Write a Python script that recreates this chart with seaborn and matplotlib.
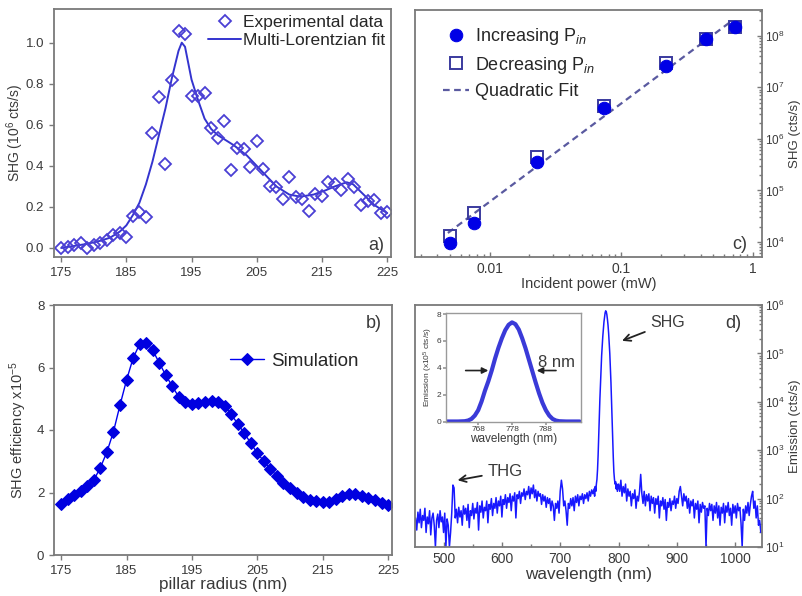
import numpy as np
import matplotlib
matplotlib.use("Agg")
import matplotlib.pyplot as plt
import matplotlib.ticker as mticker
import seaborn as sns

# ---------------- data ----------------
# (a) experimental SHG vs pillar radius
radius_exp = list(range(175, 226))
shg_exp = [0.00, 0.006, 0.013, 0.023, 0.002, 0.013, 0.026, 0.039, 0.063, 0.075,
           0.052, 0.156, 0.177, 0.153, 0.56, 0.734, 0.41, 0.818, 1.058, 1.04,
           0.74, 0.74, 0.753, 0.583, 0.534, 0.62, 0.378, 0.486, 0.483, 0.392,
           0.52, 0.386, 0.30, 0.297, 0.238, 0.344, 0.248, 0.24, 0.18, 0.264,
           0.251, 0.32, 0.311, 0.28, 0.337, 0.297, 0.207, 0.23, 0.235, 0.17, 0.175]
fit_x = [175, 177, 179, 181, 182.5, 184, 185, 186, 187, 188, 189, 190, 191, 192, 193,
         193.5, 194, 195, 196, 197, 198, 199, 200, 201.5, 203.5, 205, 206.5, 208, 210,
         211.7, 213.7, 215.5, 217, 218.8, 219.8, 221.4, 223, 225]
fit_y = [0.0, 0.01, 0.02, 0.035, 0.05, 0.08, 0.11, 0.16, 0.22, 0.31, 0.42, 0.55, 0.68, 0.83, 0.96,
         1.0, 0.98, 0.82, 0.72, 0.63, 0.58, 0.55, 0.53, 0.5, 0.45, 0.4, 0.35, 0.3, 0.26,
         0.25, 0.26, 0.28, 0.30, 0.32, 0.31, 0.26, 0.21, 0.17]

# (b) simulation
sim_x = list(range(175, 226))
sim_y = [1.62, 1.78, 1.92, 2.05, 2.2, 2.4, 2.8, 3.3, 3.95, 4.8,
         5.6, 6.3, 6.75, 6.8, 6.55, 6.15, 5.75, 5.4, 5.05, 4.9,
         4.82, 4.85, 4.9, 4.92, 4.9, 4.78, 4.5, 4.2, 3.9, 3.58,
         3.26, 3.0, 2.75, 2.53, 2.32, 2.15, 2.0, 1.87, 1.77, 1.72,
         1.7, 1.7, 1.78, 1.88, 1.95, 1.95, 1.9, 1.82, 1.75, 1.67, 1.6]

# (c) power dependence
pin_inc = [0.005, 0.0076, 0.023, 0.074, 0.22, 0.44, 0.73]
shg_inc = [9.5e3, 2.3e4, 3.5e5, 4.0e6, 2.6e7, 8.7e7, 1.5e8]
pin_dec = [0.005, 0.0076, 0.023, 0.074, 0.22, 0.44, 0.73]
shg_dec = [1.3e4, 3.6e4, 4.5e5, 4.4e6, 3.0e7, 8.7e7, 1.5e8]
qfit_x = [0.0048, 0.70]
qfit_y = [1.5e4, 2.0e8]

# (d) emission spectrum, log10 of counts
spec_left_start, spec_step = 452, 2
spec_left_log = [
    1.60, 1.35, 1.72, 1.50, 1.78, 1.40, 1.65, 1.55, 1.80, 1.30,
    1.62, 1.48, 1.75, 1.25, 1.60, 1.70, 1.45, 1.00, 1.55, 1.68,
    1.40, 1.75, 1.52, 1.62, 1.30, 1.70, 1.00, 1.58, 1.45, 1.00,
    1.30, 1.70, 2.28, 2.22, 1.60, 1.78, 1.50, 1.82, 1.62, 1.75,
    1.45, 1.85, 1.68, 1.80, 1.55, 1.88, 1.40, 1.75, 1.65, 1.90,
    1.58, 1.80, 1.70, 1.92, 1.35, 1.85, 1.72, 1.95, 1.60, 1.82,
    1.75, 1.95, 1.50, 1.88, 1.78, 2.00, 1.65, 1.90, 1.80, 2.02,
    1.70, 1.95, 1.85, 2.05, 1.62, 1.98, 1.88, 2.08, 1.80, 2.02,
    1.92, 2.10, 1.75, 2.05, 1.95, 2.12, 1.60, 2.08, 2.00, 2.15,
    1.90, 2.12, 2.05, 2.20, 1.98, 2.15, 2.08, 2.25, 2.00, 2.22,
    2.10, 2.28, 2.02, 2.18, 1.95, 2.15, 2.05, 2.10, 1.88, 2.08,
    1.95, 2.05, 1.82, 2.02, 1.90, 2.00, 1.75, 1.95, 1.85, 1.55,
    1.90, 1.80, 1.95, 1.70, 2.15, 2.38, 2.20, 1.85, 1.95, 1.75,
    1.45, 1.90, 1.80, 2.00, 1.85, 2.02, 1.75, 2.05, 1.92, 2.08,
    1.85, 2.05, 1.98, 2.10, 1.90, 2.08, 2.00, 2.12, 1.95, 2.15,
    2.05, 2.18, 2.10]
peak_wl = list(range(758, 799))
peak_log = [2.2, 2.05, 2.25, 2.15, 2.3, 2.4, 2.6, 2.9, 3.3, 3.7,
            4.05, 4.35, 4.6, 4.95, 5.15, 5.35, 5.5, 5.65, 5.75, 5.84,
            5.88, 5.86, 5.8, 5.7, 5.58, 5.42, 5.22, 5.0, 4.72, 4.4,
            4.0, 3.6, 3.2, 2.85, 2.55, 2.4, 2.3, 2.35, 2.2, 2.3, 2.15]
spec_right_start = 800
spec_right_log = [
    2.30, 2.15, 2.38, 2.05, 2.25, 2.12, 2.30, 1.95, 2.20, 2.05,
    2.15, 1.85, 2.10, 2.00, 2.18, 1.80, 2.05, 1.95, 2.15, 2.50,
    2.10, 1.90, 2.15, 1.85, 2.08, 1.95, 2.10, 1.75, 2.05, 1.90,
    2.02, 1.70, 2.00, 1.88, 2.05, 1.60, 1.95, 1.85, 2.02, 1.78,
    1.98, 1.55, 1.92, 1.82, 2.00, 1.75, 1.95, 1.88, 2.05, 1.80,
    2.00, 1.90, 2.15, 2.25, 2.05, 1.85, 2.10, 1.95, 2.05, 1.80,
    2.00, 1.70, 1.95, 1.85, 1.98, 1.60, 1.90, 1.78, 1.95, 1.50,
    1.88, 1.72, 1.92, 1.80, 1.85, 1.00, 1.80, 1.65, 1.90, 1.75,
    1.88, 1.55, 1.85, 1.70, 1.92, 1.60, 1.85, 1.45, 1.82, 1.70,
    1.90, 1.50, 1.85, 1.72, 1.92, 1.65, 1.80, 1.45, 1.88, 1.70,
    1.85, 1.60, 1.90, 1.75, 1.82, 1.50, 1.00, 1.78, 1.55, 1.85,
    1.70, 1.92, 1.65, 1.88, 2.05, 2.15, 1.80, 1.95, 1.60, 1.85,
    1.45, 1.55, 1.30]

# inset (x10^5 cts/s)
inset_wl = [758, 760, 762, 764, 765, 766, 767, 768, 769, 770, 771, 772, 773, 774, 775,
            776, 777, 778, 779, 780, 781, 782, 783, 784, 785, 786, 787, 788, 789, 790,
            791, 792, 794, 796, 798]
inset_em = [0.01, 0.01, 0.01, 0.03, 0.08, 0.2, 0.45, 0.85, 1.5, 2.3, 3.0, 3.8, 4.7, 5.5, 6.2,
            6.8, 7.2, 7.38, 7.25, 6.85, 6.2, 5.45, 4.6, 3.75, 2.9, 2.1, 1.4, 0.85, 0.45, 0.2,
            0.08, 0.03, 0.01, 0.01, 0.01]

# ---------------- figure ----------------
sns.set_theme(style="ticks")
plt.rcParams["font.family"] = ["Liberation Sans", "DejaVu Sans"]
plt.rcParams["mathtext.fontset"] = "custom"
plt.rcParams["mathtext.rm"] = "Liberation Sans"
plt.rcParams["mathtext.it"] = "Liberation Sans:italic"
plt.rcParams["mathtext.bf"] = "Liberation Sans:bold"

W, H = 803, 596
fig = plt.figure(figsize=(W / 100, H / 100), dpi=100)
TXT = "#3a3a3a"
SP = "#7a7a7a"


def box(l, t, r, b):
    return [l / W, 1 - b / H, (r - l) / W, (b - t) / H]


def style(ax, direction="out", size=9.5):
    for s in ax.spines.values():
        s.set_color(SP)
        s.set_linewidth(1.3)
    ax.tick_params(which="both", colors=SP, labelcolor=TXT, labelsize=size,
                   direction=direction, width=1.0)
    ax.tick_params(which="major", length=3.5)
    ax.tick_params(which="minor", length=2)


# ----- (a)
axA = fig.add_axes(box(54, 9, 391, 257))
sns.lineplot(x=fit_x, y=fit_y, ax=axA, color="#3434cf", lw=1.4, sort=False,
             label="Multi-Lorentzian fit")
sns.lineplot(x=radius_exp, y=shg_exp, ax=axA, marker="D", linestyle="none", ms=6,
             mfc="none", mec="#4a3fd4", mew=1.3, label="Experimental data")
axA.set_xlim(173.9, 225.6)
axA.set_ylim(-0.044, 1.164)
axA.set_xticks([175, 185, 195, 205, 215, 225])
axA.set_yticks([0.0, 0.2, 0.4, 0.6, 0.8, 1.0])
axA.yaxis.set_major_formatter(mticker.FormatStrFormatter("%.1f"))
axA.set_ylabel("SHG (10$^6$ cts/s)", fontsize=10, color=TXT)
axA.yaxis.set_label_coords(-0.082, 0.5)
style(axA)
h, l = axA.get_legend_handles_labels()
axA.legend([h[1], h[0]], [l[1], l[0]], loc="upper right", bbox_to_anchor=(1.0, 1.0),
           frameon=False, fontsize=12.5, handlelength=1.9, handletextpad=0.1,
           labelspacing=0.15, borderaxespad=0.15, borderpad=0.2)
axA.text(0.955, 0.045, "a)", transform=axA.transAxes, fontsize=13, color=TXT,
         ha="center", va="center")

# ----- (b)
axB = fig.add_axes(box(54, 305, 392, 555))
sns.lineplot(x=sim_x, y=sim_y, ax=axB, color="#0000f0", lw=1.0, marker="D", ms=6.5,
             mfc="#0000e0", mec="#0000e0", label="Simulation")
axB.set_xlim(173.9, 225.6)
axB.set_ylim(0, 8)
axB.set_xticks([175, 185, 195, 205, 215, 225])
axB.set_yticks([0, 2, 4, 6, 8])
axB.set_xlabel("pillar radius (nm)", fontsize=12.3, color=TXT, labelpad=0)
axB.set_ylabel("SHG efficiency x10$^{-5}$", fontsize=10.5, color=TXT)
axB.yaxis.set_label_coords(-0.075, 0.5)
style(axB)
axB.legend(loc="center left", bbox_to_anchor=(0.52, 0.776), frameon=False,
           fontsize=13.5, handlelength=1.85, handletextpad=0.35, borderaxespad=0, borderpad=0)
axB.text(0.945, 0.925, "b)", transform=axB.transAxes, fontsize=13, color=TXT,
         ha="center", va="center")

# ----- (c)
axC = fig.add_axes(box(415, 10, 762, 257))
axC.set_xscale("log")
axC.set_yscale("log")
sns.lineplot(x=qfit_x, y=qfit_y, ax=axC, color="#5a5aa0", lw=1.6, linestyle=(0, (3, 2)),
             label="Quadratic Fit")
sns.lineplot(x=pin_dec, y=shg_dec, ax=axC, marker="s", linestyle="none", ms=8.5,
             mfc="none", mec="#3a3a9e", mew=1.4, label="Decreasing P$_{in}$")
sns.lineplot(x=pin_inc, y=shg_inc, ax=axC, marker="o", linestyle="none", ms=9,
             color="#0000e6", mec="#0000e6", label="Increasing P$_{in}$")
axC.set_xlim(0.0027, 1.17)
axC.set_ylim(10 ** 3.71, 10 ** 8.5)
axC.set_xticks([0.01, 0.1, 1])
axC.set_xticklabels(["0.01", "0.1", "1"])
axC.xaxis.set_minor_locator(mticker.LogLocator(base=10, subs=np.arange(2, 10)))
axC.xaxis.set_minor_formatter(mticker.NullFormatter())
axC.yaxis.set_major_locator(mticker.LogLocator(base=10, numticks=10))
axC.yaxis.set_minor_locator(mticker.LogLocator(base=10, subs=np.arange(2, 10), numticks=20))
axC.yaxis.set_minor_formatter(mticker.NullFormatter())
axC.yaxis.tick_right()
axC.yaxis.set_label_position("right")
axC.set_xlabel("Incident power (mW)", fontsize=10.5, color=TXT, labelpad=1)
axC.set_ylabel("SHG (cts/s)", fontsize=9.5, color=TXT)
axC.yaxis.set_label_coords(1.078, 0.5)
style(axC, direction="in", size=10)
axC.tick_params(axis="y", labelsize=8.5, pad=2)
h, l = axC.get_legend_handles_labels()
axC.legend([h[2], h[1], h[0]], [l[2], l[1], l[0]], loc="upper left",
           bbox_to_anchor=(0.081, 0.935), frameon=False, fontsize=13,
           handlelength=1.45, handletextpad=0.3, labelspacing=0.42,
           borderaxespad=0, borderpad=0)
axC.text(0.937, 0.05, "c)", transform=axC.transAxes, fontsize=13, color=TXT,
         ha="center", va="center")

# ----- (d)
spec_wl = ([spec_left_start + spec_step * i for i in range(len(spec_left_log))]
           + peak_wl
           + [spec_right_start + spec_step * i for i in range(len(spec_right_log))])
spec_val = [10 ** v for v in spec_left_log + peak_log + spec_right_log]

axD = fig.add_axes(box(415, 305, 762, 547))
axD.set_yscale("log")
sns.lineplot(x=spec_wl, y=spec_val, ax=axD, color="#1818ff", lw=1.1, sort=False)
axD.set_xlim(451, 1046)
axD.set_ylim(10, 1e6)
axD.set_xticks([500, 600, 700, 800, 900, 1000])
axD.xaxis.set_minor_locator(mticker.MultipleLocator(50))
axD.yaxis.set_major_locator(mticker.LogLocator(base=10, numticks=10))
axD.yaxis.set_minor_locator(mticker.LogLocator(base=10, subs=np.arange(2, 10), numticks=20))
axD.yaxis.set_minor_formatter(mticker.NullFormatter())
axD.yaxis.tick_right()
axD.yaxis.set_label_position("right")
axD.set_xlabel("wavelength (nm)", fontsize=12.3, color=TXT, labelpad=1)
axD.set_ylabel("Emission (cts/s)", fontsize=9.5, color=TXT)
axD.yaxis.set_label_coords(1.078, 0.5)
style(axD, direction="in", size=10)
axD.tick_params(axis="y", labelsize=8.5, pad=2)
axD.text(0.917, 0.924, "d)", transform=axD.transAxes, fontsize=13, color=TXT,
         ha="center", va="center")
axD.annotate("SHG", xy=(806, 10 ** 5.26), xytext=(885, 10 ** 5.63), fontsize=11.5,
             color=TXT, ha="center", va="center",
             arrowprops=dict(arrowstyle="->", color="#222222", lw=1.3,
                             shrinkA=2, shrinkB=0, mutation_scale=12))
axD.annotate("THG", xy=(524, 10 ** 2.38), xytext=(606, 10 ** 2.56), fontsize=12,
             color=TXT, ha="center", va="center",
             arrowprops=dict(arrowstyle="->", color="#222222", lw=1.3,
                             shrinkA=2, shrinkB=0, mutation_scale=12))

# inset
axI = fig.add_axes(box(445.7, 312.7, 580.7, 422.3))
sns.lineplot(x=inset_wl, y=inset_em, ax=axI, color="#3a3ad8", lw=3.0)
axI.set_xlim(758.4, 798.3)
axI.set_ylim(-0.05, 8.1)
axI.set_xticks([768, 778, 788])
axI.set_yticks([0, 2, 4, 6, 8])
axI.set_xlabel("wavelength (nm)", fontsize=8.5, color=TXT, labelpad=0)
axI.set_ylabel("Emission (x10$^5$ cts/s)", fontsize=6, color=TXT, labelpad=1)
for s in axI.spines.values():
    s.set_color("#9a9a9a")
    s.set_linewidth(1.0)
axI.tick_params(colors="#9a9a9a", labelcolor=TXT, labelsize=6, direction="out",
                length=2, pad=1)
axI.annotate("", xy=(771, 3.8), xytext=(764.3, 3.8),
             arrowprops=dict(arrowstyle="-|>", color="#222222", lw=1.2,
                             shrinkA=0, shrinkB=0, mutation_scale=9))
axI.annotate("", xy=(785.3, 3.8), xytext=(791.0, 3.8),
             arrowprops=dict(arrowstyle="-|>", color="#222222", lw=1.2,
                             shrinkA=0, shrinkB=0, mutation_scale=9))
axI.text(791, 4.4, "8 nm", fontsize=12, color=TXT, ha="center", va="center")
if axI.get_legend() is not None:
    axI.get_legend().remove()
if axD.get_legend() is not None:
    axD.get_legend().remove()

fig.savefig("out.png", dpi=100)
